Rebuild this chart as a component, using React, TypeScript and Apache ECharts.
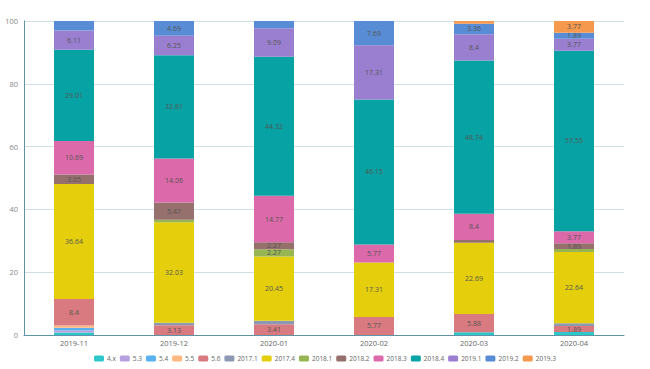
import React, { useEffect, useRef } from "react";
import * as echarts from "echarts";

const categories = ["2019-11", "2019-12", "2020-01", "2020-02", "2020-03", "2020-04"];
const seriesNames = ["4.x", "5.3", "5.4", "5.5", "5.6", "2017.1", "2017.4", "2018.1", "2018.2", "2018.3", "2018.4", "2019.1", "2019.2", "2019.3"];
const v4x = [0.76, null, null, null, 0.84, 0.94];
const v53 = [0.76, null, null, null, null, null];
const v54 = [0.76, null, null, null, null, null];
const v55 = [0.76, null, null, null, null, null];
const v56 = [8.4, 3.13, 3.41, 5.77, 5.88, 1.89];
const v20171 = [null, 0.78, 1.14, null, null, 0.94];
const v20174 = [36.64, 32.03, 20.45, 17.31, 22.69, 22.64];
const v20181 = [null, 0.78, 2.27, null, null, 0.94];
const v20182 = [3.05, 5.47, 2.27, null, 0.84, 1.89];
const v20183 = [10.69, 14.06, 14.77, 5.77, 8.4, 3.77];
const v20184 = [29.01, 32.81, 44.32, 46.15, 48.74, 57.55];
const v20191 = [6.11, 6.25, 9.09, 17.31, 8.4, 3.77];
const v20192 = [3.05, 4.69, 2.27, 7.69, 3.36, 1.89];
const v20193 = [null, null, null, null, 0.84, 3.77];
const seriesValues = [v4x, v53, v54, v55, v56, v20171, v20174, v20181, v20182, v20183, v20184, v20191, v20192, v20193];
// labels not shown in the reference: [series index, category index]
const unlabeled = [[12, 0], [12, 2]];
const yTicks = { min: 0, max: 100, interval: 20 };

const colors = ["#2ec7c9", "#b6a2de", "#5ab1ef", "#ffb980", "#d87a80", "#8d98b3", "#e5cf0d", "#97b552", "#95706d", "#dc69aa", "#07a2a4", "#9a7fd1", "#588dd5", "#f5994e"];

export default function App() {
  const ref = useRef<HTMLDivElement>(null);
  useEffect(() => {
    if (!ref.current) return;
    const chart = echarts.init(ref.current, null, { renderer: "svg" });
    const series = seriesNames.map((name, si) => ({
      name,
      type: "bar",
      stack: "total",
      barWidth: 40,
      label: {
        show: true,
        position: "inside",
        color: "#555",
        fontSize: 7,
        lineHeight: 7,
        fontFamily: "Open Sans",
        formatter: (p: any) => (p.value != null && p.value >= 1.5 ? String(p.value) : ""),
      },
      data: seriesValues[si].map((v, ci) =>
        unlabeled.some(([s, c]) => s === si && c === ci) ? { value: v, label: { show: false } } : v
      ),
    }));
    chart.setOption({
      animation: false,
      color: colors,
      textStyle: { fontFamily: "Open Sans" },
      grid: { left: 24, right: 26, top: 21, bottom: 34 },
      legend: {
        bottom: 2,
        left: "center",
        itemWidth: 10,
        itemHeight: 6,
        itemGap: 4,
        icon: "roundRect",
        textStyle: { fontSize: 6.5, color: "#666", padding: [0, 0, 0, -2] },
        data: seriesNames,
      },
      xAxis: {
        type: "category",
        data: categories,
        axisLine: { lineStyle: { color: "#5e93a8", width: 1 } },
        axisTick: { lineStyle: { color: "#5e93a8" }, length: 3 },
        axisLabel: { fontSize: 7.5, color: "#666", margin: 4 },
      },
      yAxis: {
        type: "value",
        min: yTicks.min,
        max: yTicks.max,
        interval: yTicks.interval,
        axisLine: { show: true, lineStyle: { color: "#5e93a8" } },
        axisTick: { show: false },
        axisLabel: { fontSize: 7.5, color: "#888", margin: 6 },
        splitLine: { lineStyle: { color: "#cfdfe6" } },
      },
      series,
    });
    return () => chart.dispose();
  }, []);
  return <div ref={ref} style={{ width: 650, height: 369, position: "absolute", left: 0, top: 0 }} />;
}
